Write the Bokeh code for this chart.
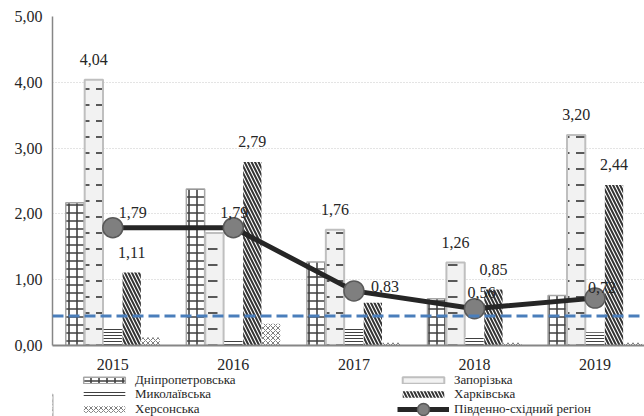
from bokeh.plotting import figure
from bokeh.layouts import column
from bokeh.core.properties import value
from bokeh.models import (ColumnDataSource, Range1d, Span, Legend, LegendItem,
                          LabelSet, CustomJSTickFormatter, FixedTicker)
from bokeh.embed import file_html
from bokeh.resources import INLINE

years = ["2015", "2016", "2017", "2018", "2019"]
dnipro = [2.17, 2.38, 1.27, 0.71, 0.76]
zapor = [4.04, 1.71, 1.76, 1.26, 3.20]
mykol = [0.26, 0.07, 0.26, 0.13, 0.20]
khark = [1.11, 2.79, 0.65, 0.85, 2.44]
kherson = [0.12, 0.33, 0.04, 0.04, 0.04]
region = [1.79, 1.79, 0.83, 0.56, 0.72]
threshold = 0.45
y_ticks = [0, 1, 2, 3, 4, 5]
zap_label_shown = [True, False, True, True, True]
khark_label_shown = [True, True, False, True, True]
region_name = "Південно-східний регіон"

# label placement tweaks (pixels) for the regional line
line_dx = [20, 1, 31, 7, 7]
line_dy = [15, 15, 4, 16, 11]

FONT = "Liberation Serif"
idx = list(range(len(years)))
bw = 0.152
step = 0.157
MAIN_H = 372
LEG_H = 416 - MAIN_H

p = figure(width=644, height=MAIN_H, output_backend="svg", toolbar_location=None,
           x_range=Range1d(-0.5, 4.41), y_range=Range1d(0, 5),
           min_border_left=52, min_border_right=0, min_border_top=16,
           min_border_bottom=26)
p.outline_line_color = None

series = [
    ("Дніпропетровська", dnipro, dict(fill_color="white", hatch_pattern="+", hatch_color="#404040",
                                        hatch_scale=8, hatch_weight=1.6, line_color="#a6a6a6", line_width=1.5)),
    ("Запорізька", zapor, dict(fill_color="#f2f2f2", hatch_pattern='"', hatch_color="#595959",
                                hatch_scale=16, hatch_weight=2, line_color="#bfbfbf", line_width=2)),
    ("Миколаївська", mykol, dict(fill_color="white", hatch_pattern="-", hatch_color="#404040",
                                  hatch_scale=3, hatch_weight=1, line_color=None)),
    ("Харківська", khark, dict(fill_color="white", hatch_pattern="\\", hatch_color="#333333",
                                hatch_scale=7, hatch_weight=2, line_color=None)),
    ("Херсонська", kherson, dict(fill_color="white", hatch_pattern="x", hatch_color="#808080",
                                  hatch_scale=5, hatch_weight=1, line_color=None)),
]

for k, (name, vals, style) in enumerate(series):
    xs = [i + (k - 2) * step for i in idx]
    src = ColumnDataSource(dict(x=xs, top=vals))
    p.vbar(x="x", top="top", width=bw, bottom=0, source=src, **style)

# threshold line
p.add_layout(Span(location=threshold, dimension="width", line_color="#4a7ebb",
                  line_width=3, line_dash="11 5"))

# regional line
line_style = dict(line_color="#262626", line_width=5)
marker_style = dict(fill_color="#7f7f7f", line_color="#595959", line_width=1.5)
lsrc = ColumnDataSource(dict(x=idx, y=region, dx=line_dx, dy=line_dy,
                             t=[f"{v:.2f}".replace(".", ",") for v in region]))
p.line(x="x", y="y", source=lsrc, **line_style)
p.scatter(x="x", y="y", source=lsrc, size=20, **marker_style)

# bar labels
def bar_labels(vals, shown, k):
    xs = [i + (k - 2) * step for i in idx]
    txt = [f"{v:.2f}".replace(".", ",") if s else "" for v, s in zip(vals, shown)]
    return ColumnDataSource(dict(x=xs, y=vals, t=txt))

for vals, shown, k in [(zapor, zap_label_shown, 1), (khark, khark_label_shown, 3)]:
    p.add_layout(LabelSet(x="x", y="y", text="t", source=bar_labels(vals, shown, k),
                          text_align="center", text_baseline="middle", y_offset=20,
                          text_font=value(FONT), text_font_size="16px", text_color="#262626"))

p.add_layout(LabelSet(x="x", y="y", text="t", source=lsrc, x_offset="dx", y_offset="dy",
                      text_align="center", text_baseline="middle",
                      text_font=value(FONT), text_font_size="16px", text_color="#262626"))

# axes
p.yaxis.ticker = FixedTicker(ticks=y_ticks)
p.yaxis.formatter = CustomJSTickFormatter(code="return tick.toFixed(2).replace('.', ',');")
p.xaxis.ticker = FixedTicker(ticks=idx)
p.xaxis.major_label_overrides = {i: y for i, y in zip(idx, years)}
for ax in (p.xaxis, p.yaxis):
    ax.major_tick_line_color = None
    ax.minor_tick_line_color = None
    ax.major_label_text_font = FONT
    ax.major_label_text_font_size = "16px"
    ax.major_label_text_color = "#262626"
    ax.axis_line_color = "#868686"
p.yaxis.axis_line_width = 1.5
p.xaxis.axis_line_width = 2
p.yaxis.major_label_standoff = 4
p.xaxis.major_label_standoff = 7

p.xgrid.grid_line_color = None
p.ygrid.grid_line_color = "#c8c8c8"
p.ygrid.grid_line_dash = "1 2"
p.ygrid.grid_line_width = 1

# ---- legend strip (separate figure below the chart) ----
lg = figure(width=644, height=LEG_H, output_backend="svg", toolbar_location=None,
            x_range=Range1d(0, 1), y_range=Range1d(0, 1),
            min_border_left=0, min_border_right=0, min_border_top=0, min_border_bottom=0)
lg.axis.visible = False
lg.grid.visible = False
lg.outline_line_color = None

# legend-only renderers, placed outside the visible range
leg_r = {}
for name, _, style in series:
    leg_r[name] = lg.vbar(x="x", top="top", width=0.1, bottom=0,
                          source=ColumnDataSource(dict(x=[-10], top=[0.5])), **style)
lsrc2 = ColumnDataSource(dict(x=[-10, -9], y=[0.5, 0.5]))
leg_line = lg.line(x="x", y="y", source=lsrc2, **line_style)
leg_mark = lg.scatter(x="x", y="y", source=lsrc2, size=10, **marker_style)

def add_leg(label, rends, x, center, gh, rowh=16):
    L = Legend(items=[LegendItem(label=label, renderers=rends)],
               location=(x, LEG_H - (center + rowh / 2)), orientation="vertical",
               padding=0, margin=0, spacing=0, border_line_color=None,
               background_fill_alpha=0, glyph_width=52, glyph_height=gh,
               label_height=8, label_standoff=5,
               label_text_font=FONT, label_text_font_size="13px",
               label_text_color="#262626")
    lg.add_layout(L, "center")

col1_x, col2_x = 26, 345
rows = [8, 22, 37]
add_leg("Дніпропетровська", [leg_r["Дніпропетровська"]], col1_x, rows[0], 8)
add_leg("Миколаївська", [leg_r["Миколаївська"]], col1_x, rows[1], 8)
add_leg("Херсонська", [leg_r["Херсонська"]], col1_x, rows[2], 8)
add_leg("Запорізька", [leg_r["Запорізька"]], col2_x, rows[0], 8)
add_leg("Харківська", [leg_r["Харківська"]], col2_x, rows[1], 8)
add_leg(region_name, [leg_line, leg_mark], col2_x, rows[2], 30, rowh=30)

layout = column(p, lg, spacing=0)
open("out.html", "w").write(file_html(layout, INLINE))
